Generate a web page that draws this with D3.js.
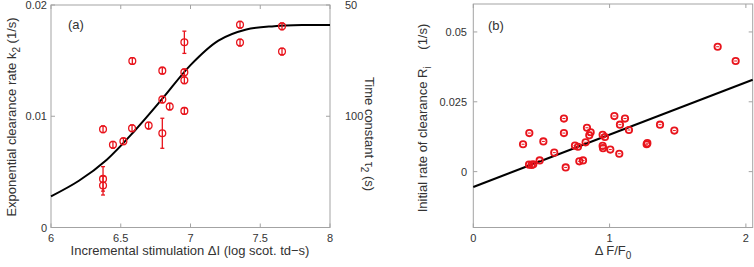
<!DOCTYPE html>
<html>
<head>
<meta charset="utf-8">
<script src="https://cdn.jsdelivr.net/npm/d3@7"></script>
<style>
  body { margin: 0; background: #fff; }
  svg text { font-family: "Liberation Sans", Arial, sans-serif; fill: #333; }
</style>
</head>
<body>
<svg id="chart" width="754" height="267"></svg>
<script>
// panel (a) data: log intensity, clearance rate k2, error
const aX = [6.373, 6.373, 6.373, 6.444, 6.519, 6.581, 6.583, 6.700, 6.798, 6.798,
            6.798, 6.851, 6.956, 6.956, 6.956, 6.956, 7.355, 7.355, 7.656, 7.656];
const aY = [0.00883, 0.00437, 0.00377, 0.00743, 0.00775, 0.00892, 0.01497, 0.00916, 0.00847, 0.0115,
            0.0141, 0.01087, 0.01665, 0.01395, 0.01323, 0.01048, 0.01823, 0.01662, 0.01808, 0.01581];
const aErr = [0.0003, 0.0011, 0.00085, 0.0003, 0.0003, 0.0003, 0.0003, 0.0003, 0.00135, 0.0003,
              0.0003, 0.0003, 0.001, 0.0003, 0.0003, 0.0003, 0.0003, 0.0003, 0.0003, 0.0003];
// fitted curve (a)
const fitAX = [6.0, 6.2, 6.4, 6.6, 6.8, 7.0, 7.2, 7.4, 7.6, 7.8, 8.0];
const fitAY = [0.0028, 0.0042, 0.0061, 0.0087, 0.0116, 0.0146, 0.0168, 0.0178, 0.0181, 0.0182, 0.0182];
const aXTicks = [6, 6.5, 7, 7.5, 8];
const aYTicks = [0, 0.01, 0.02];
const tauTicks = [50, 100];

// panel (b) data: dF/F0, initial rate Ri
const bX = [0.365, 0.411, 0.409, 0.440, 0.428, 0.487, 0.514, 0.594, 0.665, 0.665,
            0.678, 0.746, 0.768, 0.778, 0.805, 0.824, 0.834, 0.851, 0.861, 0.949,
            0.966, 0.949, 0.952, 1.005, 1.035, 1.071, 1.076, 1.113, 1.142, 1.272,
            1.277, 1.370, 1.475, 1.793, 1.925];
const bY = [0.0098, 0.0138, 0.0025, 0.0026, 0.0024, 0.0040, 0.0108, 0.0068, 0.0190, 0.0138,
            0.0015, 0.0093, 0.0089, 0.0037, 0.0040, 0.0105, 0.0157, 0.0130, 0.0141, 0.0132,
            0.0124, 0.0092, 0.0084, 0.0079, 0.0199, 0.0064, 0.0168, 0.0190, 0.0149, 0.0098,
            0.0102, 0.0168, 0.0147, 0.0447, 0.0396];
const fitBX = [0, 2.05];
const fitBY = [-0.0055, 0.0329];
const bXTicks = [0, 1, 2];
const bYTicks = [0, 0.025, 0.05];

const svg = d3.select("#chart");
const red = "#e8141c";
const grey = "#a3a3a3";
const tickLen = 4;

function frame(g, x, y) {
    const [x0, x1] = x.range();
    const [y0, y1] = y.range();
    g.append("rect")
        .attr("x", x0).attr("y", y1)
        .attr("width", x1 - x0).attr("height", y0 - y1)
        .attr("fill", "none")
        .attr("stroke", grey)
        .attr("stroke-width", 1);
}

function inTicks(g, x, y, xt, yt, rightTicks) {
    const [x0, x1] = x.range();
    const [y0, y1] = y.range();
    const t = g.append("g").attr("stroke", grey).attr("stroke-width", 1);
    xt.forEach(v => {
        t.append("line").attr("x1", x(v)).attr("x2", x(v)).attr("y1", y0).attr("y2", y0 - tickLen);
        t.append("line").attr("x1", x(v)).attr("x2", x(v)).attr("y1", y1).attr("y2", y1 + tickLen);
    });
    yt.forEach(v => {
        t.append("line").attr("x1", x0).attr("x2", x0 + tickLen).attr("y1", y(v)).attr("y2", y(v));
    });
    (rightTicks || yt).forEach(v => {
        t.append("line").attr("x1", x1).attr("x2", x1 - tickLen).attr("y1", y(v)).attr("y2", y(v));
    });
}

// ---------- panel (a) ----------
const xa = d3.scaleLinear().domain([6, 8]).range([51, 330]);
const ya = d3.scaleLinear().domain([0, 0.02]).range([227.5, 5]);
const ga = svg.append("g");

frame(ga, xa, ya);
inTicks(ga, xa, ya, aXTicks, aYTicks, tauTicks.map(t => 1 / t));

ga.selectAll(".xt").data(aXTicks).enter().append("text")
    .attr("x", d => xa(d)).attr("y", 242)
    .attr("text-anchor", "middle").style("font-size", "11px")
    .text(d => d);
ga.selectAll(".yt").data(aYTicks).enter().append("text")
    .attr("x", 47).attr("y", d => ya(d) + 4)
    .attr("text-anchor", "end").style("font-size", "11px")
    .text(d => d);
ga.selectAll(".rt").data(tauTicks).enter().append("text")
    .attr("x", 345).attr("y", d => ya(1 / d) + 4)
    .style("font-size", "11px")
    .text(d => d);

const lineA = d3.line().x(d => xa(d[0])).y(d => ya(d[1])).curve(d3.curveCatmullRom);
ga.append("path")
    .datum(fitAX.map((v, i) => [v, fitAY[i]]))
    .attr("d", lineA)
    .attr("fill", "none").attr("stroke", "#000").attr("stroke-width", 2);

const ptsA = aX.map((v, i) => ({ x: v, y: aY[i], e: aErr[i] }));
const eb = ga.append("g").attr("stroke", red).attr("stroke-width", 1.3).attr("fill", "none");
ptsA.forEach(d => {
    const cx = xa(d.x), top = ya(d.y + d.e), bot = ya(d.y - d.e);
    eb.append("line").attr("x1", cx).attr("x2", cx).attr("y1", top).attr("y2", bot);
    eb.append("line").attr("x1", cx - 2).attr("x2", cx + 2).attr("y1", top).attr("y2", top);
    eb.append("line").attr("x1", cx - 2).attr("x2", cx + 2).attr("y1", bot).attr("y2", bot);
    eb.append("circle").attr("cx", cx).attr("cy", ya(d.y)).attr("r", 3.4);
});

ga.append("text").attr("x", 68).attr("y", 29).style("font-size", "13px").text("(a)");

ga.append("text")
    .attr("x", 190).attr("y", 255)
    .attr("text-anchor", "middle").style("font-size", "13px")
    .text("Incremental stimulation \u0394I (log scot. td\u2212s)");

const la = ga.append("text")
    .attr("transform", "translate(16,117) rotate(-90)")
    .attr("text-anchor", "middle").style("font-size", "13px");
la.append("tspan").text("Exponential clearance rate k");
la.append("tspan").attr("dy", 4).style("font-size", "10px").text("2");
la.append("tspan").attr("dy", -4).text(" (1/s)");

const ra = ga.append("text")
    .attr("transform", "translate(365,134) rotate(90)")
    .attr("text-anchor", "middle").style("font-size", "13px");
ra.append("tspan").text("Time constant \u03C4");
ra.append("tspan").attr("dy", 4).style("font-size", "10px").text("2");
ra.append("tspan").attr("dy", -4).text(" (s)");

// ---------- panel (b) ----------
const xb = d3.scaleLinear().domain([0, 2.05]).range([473.3, 752.7]);
const yb = d3.scaleLinear().domain([-0.02, 0.06]).range([227.5, 4]);
const gb = svg.append("g");

frame(gb, xb, yb);
inTicks(gb, xb, yb, bXTicks, bYTicks);

gb.selectAll(".xt").data(bXTicks).enter().append("text")
    .attr("x", d => xb(d)).attr("y", 242)
    .attr("text-anchor", "middle").style("font-size", "11px")
    .text(d => d);
gb.selectAll(".yt").data(bYTicks).enter().append("text")
    .attr("x", 467).attr("y", d => yb(d) + 4)
    .attr("text-anchor", "end").style("font-size", "11px")
    .text(d => d);

const lineB = d3.line().x(d => xb(d[0])).y(d => yb(d[1]));
gb.append("path")
    .datum(fitBX.map((v, i) => [v, fitBY[i]]))
    .attr("d", lineB)
    .attr("fill", "none").attr("stroke", "#000").attr("stroke-width", 2);

const mb = gb.append("g").attr("stroke", red).attr("fill", "none");
bX.forEach((v, i) => {
    const cx = xb(v), cy = yb(bY[i]);
    mb.append("circle").attr("cx", cx).attr("cy", cy).attr("r", 3.2).attr("stroke-width", 1.8);
    mb.append("line").attr("x1", cx - 1.5).attr("x2", cx + 1.5).attr("y1", cy).attr("y2", cy)
        .attr("stroke-width", 1);
});

gb.append("text").attr("x", 488).attr("y", 30).style("font-size", "13px").text("(b)");

const xlb = gb.append("text")
    .attr("x", 613).attr("y", 255)
    .attr("text-anchor", "middle").style("font-size", "13px");
xlb.append("tspan").text("\u0394 F/F");
xlb.append("tspan").attr("dy", 4).style("font-size", "10px").text("0");

const ylb = gb.append("text")
    .attr("transform", "translate(427,118) rotate(-90)")
    .attr("text-anchor", "middle").style("font-size", "13px");
ylb.append("tspan").text("Initial rate of clearance R");
ylb.append("tspan").attr("dy", 4).style("font-size", "10px").text("i");
ylb.append("tspan").attr("dy", -4).text("\u2003 (1/s)");
</script>
</body>
</html>
